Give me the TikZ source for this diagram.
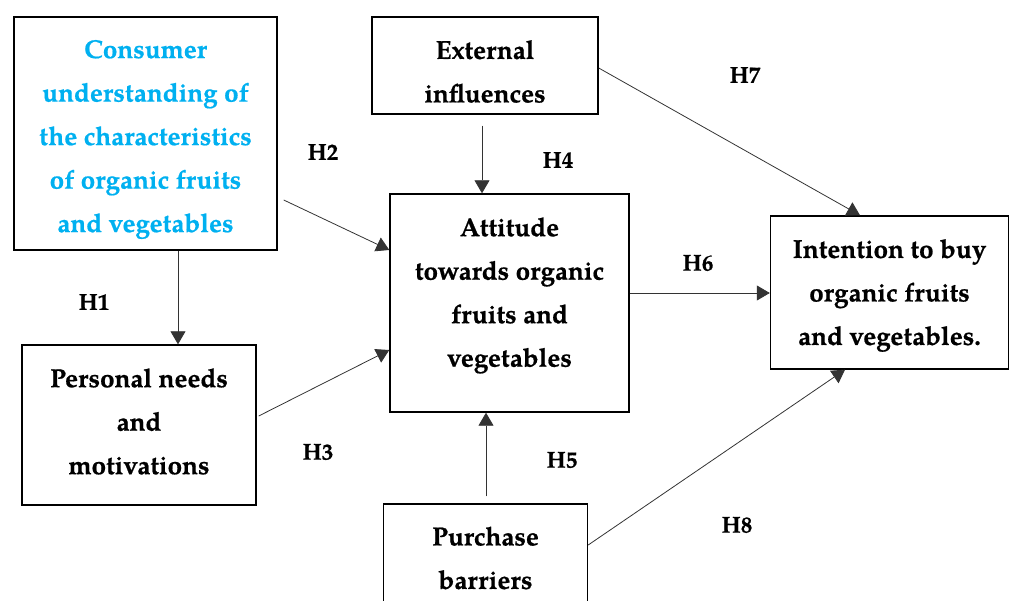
\documentclass[tikz,border=0pt]{standalone}
\usepackage{fontspec}
\setmainfont{TeX Gyre Pagella}[BoldFeatures={FakeBold=0.6}]
\usetikzlibrary{arrows.meta}

\definecolor{conscyan}{RGB}{0,176,240}

\tikzset{
  box/.style={draw, line width=1.4pt, rectangle, inner sep=0pt},
  boxtext/.style={align=center, inner sep=0pt, font=\fontsize{26}{43.5}\selectfont\bfseries},
  hyp/.style={font=\fontsize{23}{24}\selectfont\bfseries},
  arr/.style={-{Triangle[length=13pt, width=15pt]}, line width=0.8pt, black!80}
}

\begin{document}
\begin{tikzpicture}[x=1pt, y=-1pt]
                \useasboundingbox (0,0) rectangle (1011,601);

                % boxes
                \node[box, minimum width=263pt, minimum height=233pt,
                    label={[boxtext, text=conscyan, yshift=-6pt]center:{Consumer\\understanding of\\the characteristics\\of organic fruits\\and vegetables}}] (cons) at (145.5,133.5) {};
                \node[box, minimum width=226pt, minimum height=97pt,
                    label={[boxtext, yshift=-6pt]center:{External\\influences}}] (ext) at (485,65.5) {};
                \node[box, minimum width=239pt, minimum height=218pt,
                    label={[boxtext, yshift=7.5pt]center:{Attitude\\towards organic\\fruits and\\vegetables}}] (att) at (509.5,303) {};
                \node[box, minimum width=238pt, minimum height=153pt,
                    label={[boxtext, yshift=-3pt]center:{Intention to buy\\organic fruits\\and vegetables.}}] (int) at (889.5,292.5) {};
                \node[box, minimum width=234pt, minimum height=160pt,
                    label={[boxtext, yshift=3.5pt]center:{Personal needs\\and\\motivations}}] (pers) at (139,425) {};
                \node[box, minimum width=204pt, minimum height=112pt,
                    label={[boxtext, yshift=2pt]center:{Purchase\\barriers}}] (pur) at (485.5,560) {};

                % hypotheses
                \draw[arr] ([xshift=32.5pt]cons.south) -- ([xshift=32.5pt]cons.south |- pers.north);
                \draw[arr] ([xshift=6pt, yshift=-66.5pt]cons.east) -- ([yshift=53pt]att.west);
                \draw[arr] ([xshift=2pt, yshift=9pt]pers.east) -- ([yshift=-47pt]att.west);
                \draw[arr] ([xshift=-3pt, yshift=-11pt]ext.south) -- ([xshift=-3pt]ext.south |- att.north);
                \draw[arr] ([xshift=0.5pt, yshift=7pt]pur.north) -- ([xshift=0.5pt]pur.north |- att.south);
                \draw[arr] ([yshift=10pt]att.east) -- ([yshift=10pt]att.east -| int.west);
                \draw[arr] ([yshift=-2.5pt]ext.east) -- ([xshift=-29.5pt]int.north);
                \draw[arr] ([yshift=15pt]pur.east) -- ([xshift=-44.5pt]int.south);

                \node[hyp] (h1) at (94,302) {H1};
                \node[hyp] (h2) at (323,152) {H2};
                \node[hyp] (h3) at (318,452) {H3};
                \node[hyp] (h4) at (558,160) {H4};
                \node[hyp] (h5) at (562,460) {H5};
                \node[hyp] (h6) at (698,263) {H6};
                \node[hyp] (h7) at (745,75) {H7};
                \node[hyp] (h8) at (737,525) {H8};
            \end{tikzpicture}
\end{document}
